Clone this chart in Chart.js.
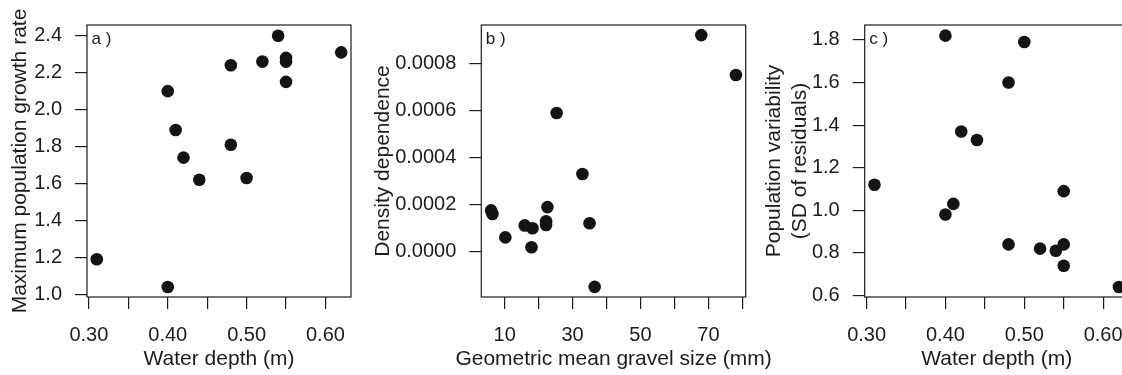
<!DOCTYPE html>
<html>
<head>
<meta charset="utf-8">
<script src="https://cdn.jsdelivr.net/npm/chart.js@4.4.1/dist/chart.umd.min.js"></script>
<style>
    html, body { margin: 0; padding: 0; background: #fff; overflow: hidden; width: 1122px; height: 375px; }
    canvas { position: absolute; top: 0; }
</style>
</head>
<body>
<canvas id="chartA" width="360" height="375" style="left:0px"></canvas>
<canvas id="chartB" width="420" height="375" style="left:360px"></canvas>
<canvas id="chartC" width="400" height="375" style="left:748px"></canvas>
<script>
// panel a
const depthA = [0.31, 0.40, 0.40, 0.41, 0.42, 0.44, 0.48, 0.48, 0.50, 0.52, 0.54, 0.55, 0.55, 0.55, 0.62];
const growthA = [1.19, 1.04, 2.10, 1.89, 1.74, 1.62, 2.24, 1.81, 1.63, 2.26, 2.40, 2.28, 2.26, 2.15, 2.31];

// panel b
const gravelB = [6.0, 6.4, 10.2, 15.9, 18.2, 17.9, 22.2, 22.2, 22.6, 25.3, 32.9, 35.0, 36.5, 67.9, 78.1];
const densityB = [0.000174, 0.000159, 0.000059, 0.000110, 0.000098, 0.000017, 0.000128, 0.000112,
    0.000188, 0.000589, 0.000329, 0.000119, -0.000152, 0.000921, 0.000751];

// panel c
const depthC = [0.31, 0.40, 0.40, 0.41, 0.42, 0.44, 0.48, 0.48, 0.50, 0.52, 0.54, 0.55, 0.55, 0.55, 0.62];
const variabilityC = [1.12, 1.82, 0.98, 1.03, 1.37, 1.33, 1.60, 0.84, 1.79, 0.82, 0.81, 1.09, 0.84, 0.74, 0.64];

// ticks
const depthTicks = [0.30, 0.35, 0.40, 0.45, 0.50, 0.55, 0.60];
const depthTickLabels = ['0.30', '', '0.40', '', '0.50', '', '0.60'];
const gravelTicks = [10, 20, 30, 40, 50, 60, 70, 80];
const gravelTickLabels = ['10', '', '30', '', '50', '', '70', ''];
const growthTicks = [1.0, 1.2, 1.4, 1.6, 1.8, 2.0, 2.2, 2.4];
const densityTicks = [0.0000, 0.0002, 0.0004, 0.0006, 0.0008];
const variabilityTicks = [0.6, 0.8, 1.0, 1.2, 1.4, 1.6, 1.8];

const FONT = "'Liberation Sans', Arial, Helvetica, sans-serif";
const INK = '#1c1c1c';

// box around the plot region, panel letter and x title (drawn here so long titles are not squeezed)
const framePlugin = {
    id: 'panelFrame',
    beforeDatasetsDraw(chart, args, opts) {
        const a = chart.chartArea;
        const ctx = chart.ctx;
        ctx.save();
        ctx.strokeStyle = INK;
        ctx.lineWidth = 1.2;
        ctx.strokeRect(a.left, a.top, a.right - a.left, a.bottom - a.top);
        ctx.fillStyle = INK;
        ctx.font = '17px ' + FONT;
        ctx.textBaseline = 'alphabetic';
        ctx.textAlign = 'left';
        ctx.fillText(opts.label, a.left + 4.5, a.top + 19);
        ctx.font = '21px ' + FONT;
        ctx.textBaseline = 'middle';
        ctx.textAlign = 'center';
        ctx.fillText(opts.xTitle, (a.left + a.right) / 2, a.bottom + 62);
        ctx.restore();
    }
};

function buatPanel(id, p) {
    const ctx = document.getElementById(id).getContext('2d');
    return new Chart(ctx, {
        type: 'scatter',
        data: {
            datasets: [{
                data: p.xs.map((x, i) => ({ x: x, y: p.ys[i] })),
                backgroundColor: '#141414',
                borderWidth: 0,
                pointRadius: 6.3,
                pointHoverRadius: 6.3,
                clip: false
            }]
        },
        plugins: [framePlugin],
        options: {
            responsive: false,
            animation: false,
            layout: { padding: { top: 20, right: p.padRight, bottom: 0, left: 0 } },
            plugins: {
                legend: { display: false },
                tooltip: { enabled: false },
                panelFrame: { label: p.label, xTitle: p.xTitle }
            },
            scales: {
                x: {
                    type: 'linear',
                    min: p.xMin,
                    max: p.xMax,
                    afterBuildTicks: s => { s.ticks = p.xTicks.map(v => ({ value: v })); },
                    afterFit: s => { s.height = 78; },
                    border: { display: false },
                    grid: { drawOnChartArea: false, drawTicks: true, tickLength: 12, color: INK, lineWidth: 1.2 },
                    ticks: {
                        autoSkip: false,
                        maxRotation: 0,
                        padding: 14,
                        color: INK,
                        font: { family: FONT, size: 20 },
                        callback: (v, i) => p.xLabels[i]
                    },
                    title: { display: false }
                },
                y: {
                    type: 'linear',
                    min: p.yMin,
                    max: p.yMax,
                    afterBuildTicks: s => { s.ticks = p.yTicks.map(v => ({ value: v })); },
                    afterFit: s => { s.width = p.yWidth; },
                    border: { display: false },
                    grid: { drawOnChartArea: false, drawTicks: true, tickLength: 12, color: INK, lineWidth: 1.2 },
                    ticks: {
                        autoSkip: false,
                        padding: 13,
                        color: INK,
                        font: { family: FONT, size: 20 },
                        callback: v => v.toFixed(p.yDigits)
                    },
                    title: {
                        display: true,
                        text: p.yTitle,
                        color: INK,
                        font: { family: FONT, size: 21 },
                        padding: { top: p.yTitlePad, bottom: 0 }
                    }
                }
            }
        }
    });
}

buatPanel('chartA', {
    label: 'a )',
    xs: depthA, ys: growthA,
    xMin: 0.2976, xMax: 0.6324, yMin: 0.9856, yMax: 2.458,
    xTicks: depthTicks, xLabels: depthTickLabels,
    yTicks: growthTicks, yDigits: 1,
    xTitle: 'Water depth (m)',
    yTitle: 'Maximum population growth rate',
    yWidth: 87, padRight: 9, yTitlePad: 8
});

buatPanel('chartB', {
    label: 'b )',
    xs: gravelB, ys: densityB,
    xMin: 3.12, xMax: 80.98, yMin: -0.000195, yMax: 0.000964,
    xTicks: gravelTicks, xLabels: gravelTickLabels,
    yTicks: densityTicks, yDigits: 4,
    xTitle: 'Geometric mean gravel size (mm)',
    yTitle: 'Density dependence',
    yWidth: 121.3, padRight: 34.3, yTitlePad: 11
});

buatPanel('chartC', {
    label: 'c )',
    xs: depthC, ys: variabilityC,
    xMin: 0.2976, xMax: 0.6324, yMin: 0.593, yMax: 1.870,
    xTicks: depthTicks, xLabels: depthTickLabels,
    yTicks: variabilityTicks, yDigits: 1,
    xTitle: 'Water depth (m)',
    yTitle: ['Population variability', '(SD of residuals)'],
    yWidth: 116.7, padRight: 19.3, yTitlePad: 14
});
</script>
</body>
</html>
